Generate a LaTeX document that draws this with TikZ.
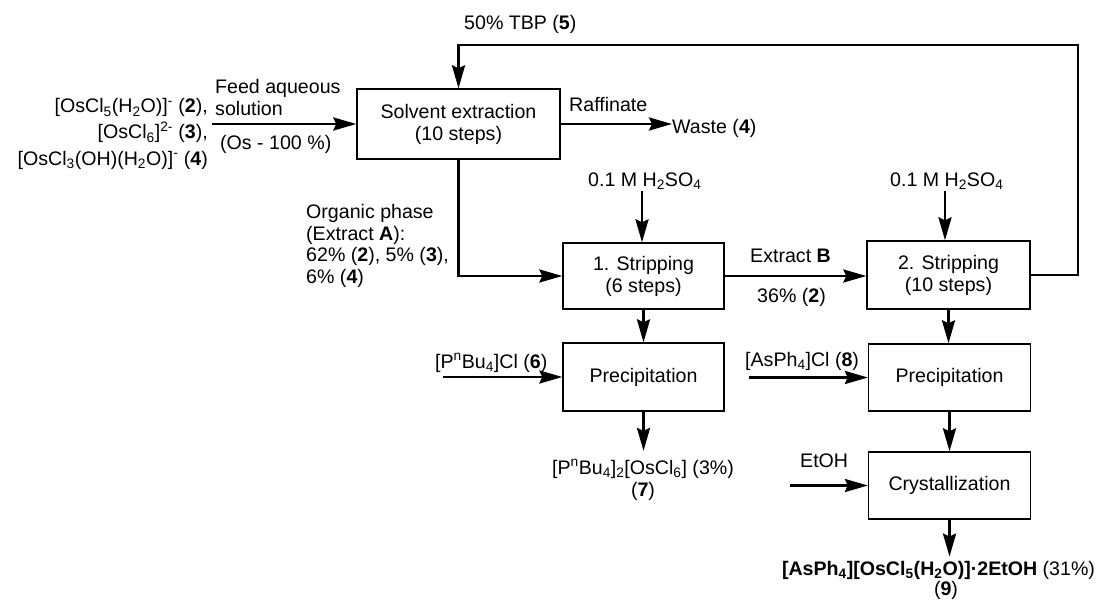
\documentclass[tikz,border=0pt]{standalone}
\usepackage{fontspec}
\setmainfont{Liberation Sans}
\usetikzlibrary{arrows.meta}
\begin{document}
\begin{tikzpicture}[x=1pt,y=-1pt,
  font=\fontsize{19.6}{22}\selectfont,
  procbox/.style={draw, line width=1.3pt, align=center, inner sep=0pt},
  lbl/.style={inner sep=0pt},
  flow/.style={line width=2.8pt, -{Stealth[length=23pt,width=13pt,inset=3pt]}}]
\useasboundingbox (0,0) rectangle (1107,599);

% process boxes
\node[procbox, minimum width=203pt, minimum height=70pt] (solv) at (458.5,124) {Solvent extraction\\(10 steps)};
\node[procbox, minimum width=161pt, minimum height=66pt] (strip1) at (643.5,276) {1. Stripping\\(6 steps)};
\node[procbox, minimum width=161pt, minimum height=68pt] (prec1) at (643.5,377) {Precipitation};
\node[procbox, minimum width=163pt, minimum height=68pt] (strip2) at (948.5,275) {2. Stripping\\(10 steps)};
\node[procbox, minimum width=162pt, minimum height=67pt] (prec2) at (949.5,377.5) {Precipitation};
\node[procbox, minimum width=162pt, minimum height=67pt] (cryst) at (949.5,485.5) {Crystallization};

% feed labels
\node[lbl, anchor=base east] (f1) at (208,113) {[OsCl\textsubscript{5}(H\textsubscript{2}O)]\textsuperscript{-} (\textbf{2}),};
\node[lbl, anchor=base east] (f2) at (208,139) {[OsCl\textsubscript{6}]\textsuperscript{2-} (\textbf{3}),};
\node[lbl, anchor=base east] (f3) at (208,165) {[OsCl\textsubscript{3}(OH)(H\textsubscript{2}O)]\textsuperscript{-} (\textbf{4})};
\node[lbl, anchor=base west] (fa) at (215,94) {Feed aqueous};
\node[lbl, anchor=base west] (fb) at (215,116) {solution};
\node[lbl, anchor=base west] (fc) at (220,149) {(Os - 100 \%)};

\node[lbl, anchor=base west] (tbp) at (464,30) {50\% TBP (\textbf{5})};
\node[lbl, anchor=base west] (raf) at (569,112) {Raffinate};
\node[lbl, anchor=base west] (waste) at (672,133) {Waste (\textbf{4})};
\node[lbl, anchor=base west] (acid1) at (588,186) {0.1 M H\textsubscript{2}SO\textsubscript{4}};
\node[lbl, anchor=base west] (acid2) at (890,186) {0.1 M H\textsubscript{2}SO\textsubscript{4}};

\node[lbl, anchor=base west] (o1) at (306,218) {Organic phase};
\node[lbl, anchor=base west] (o2) at (306,240) {(Extract \textbf{A}):};
\node[lbl, anchor=base west] (o3) at (306,261) {62\% (\textbf{2}), 5\% (\textbf{3}),};
\node[lbl, anchor=base west] (o4) at (306,283) {6\% (\textbf{4})};

\node[lbl, anchor=base west] (exb) at (750,262) {Extract \textbf{B}};
\node[lbl, anchor=base west] (p36) at (757,302) {36\% (\textbf{2})};

\node[lbl, anchor=base west] (r6) at (435,368) {[P\textsuperscript{n}Bu\textsubscript{4}]Cl (\textbf{6})};
\node[lbl, anchor=base west] (r8) at (745,366) {[AsPh\textsubscript{4}]Cl (\textbf{8})};
\node[lbl, anchor=base west] (r9) at (800,467) {EtOH};

\node[lbl, anchor=base] (p7a) at (643,474) {[P\textsuperscript{n}Bu\textsubscript{4}]\textsubscript{2}[OsCl\textsubscript{6}] (3\%)};
\node[lbl, anchor=base] (p7b) at (643,496) {(\textbf{7})};
\node[lbl, anchor=base] (p9a) at (938.5,575) {\textbf{[AsPh\textsubscript{4}][OsCl\textsubscript{5}(H\textsubscript{2}O)]·2EtOH} (31\%)};
\node[lbl, anchor=base] (p9b) at (946,595) {(\textbf{9})};

% free ends
\coordinate (feedin) at (212,124);
\coordinate (loop) at (1078,45);
\coordinate (a1) at (642,191);
\coordinate (a2) at (945,191);
\coordinate (in6) at (443,377);
\coordinate (in8) at (749,377.5);
\coordinate (in9) at (790,485.5);

% connectors
\draw[flow] (feedin) -- (feedin -| solv.west);
\draw[flow] (strip2.east) -| (loop) -| (solv.north);
\draw[flow] (solv.east) -- (solv.east -| waste.west);
\draw[flow] (solv.south) |- (strip1.west);
\draw[flow] (a1) -- (a1 |- strip1.north);
\draw[flow] (a2) -- (a2 |- strip2.north);
\draw[flow] (strip1.east) -- (strip1.east -| strip2.west);
\draw[flow] (strip1.south) -- (prec1.north);
\draw[flow] (strip2.south) -- (strip2.south |- prec2.north);
\draw[flow] (in6) -- (prec1.west);
\draw[flow] (in8) -- (prec2.west);
\draw[flow] (in9) -- (cryst.west);
\draw[flow, shorten >=8pt] (prec1.south) -- (p7a.north -| prec1.south);
\draw[flow] (prec2.south) -- (cryst.north);
\draw[flow, shorten >=4pt] (cryst.south) -- (p9a.north -| cryst.south);
\end{tikzpicture}
\end{document}
